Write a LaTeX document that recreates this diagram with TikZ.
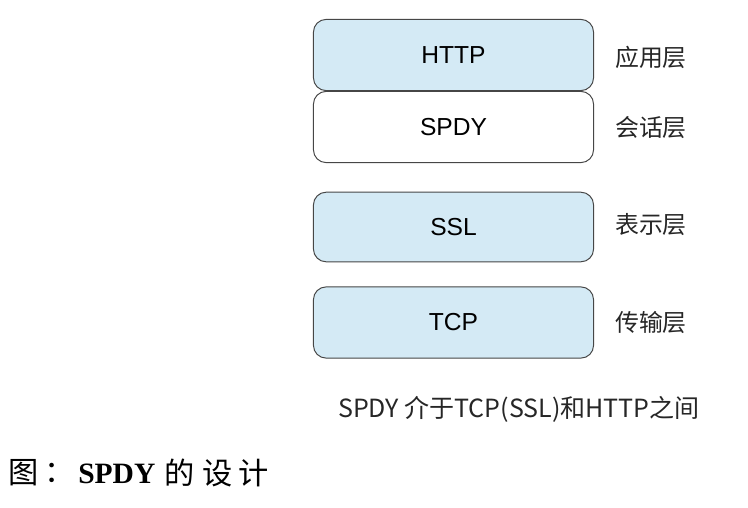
\documentclass[tikz,border=0pt]{standalone}
\usepackage{fontspec}
\setmainfont{Liberation Serif}
\setsansfont{Liberation Sans}
\newfontfamily\cjk{Noto Sans CJK SC}
\definecolor{layerblue}{RGB}{212,234,245}
\definecolor{layerline}{RGB}{70,70,70}
\tikzset{
  layer/.style={draw=layerline, line width=0.7pt, rounded corners=9pt,
    minimum width=7.0cm, minimum height=1.78cm, font=\sffamily\fontsize{17.5}{20}\selectfont},
  layerlabel/.style={font=\cjk\fontsize{17}{20}\selectfont, text=black!85},
  titlechar/.style={inner sep=0pt, font=\cjk\fontsize{21.5}{24}\selectfont},
}
\begin{document}
\begin{tikzpicture}[x=0.025cm, y=-0.025cm]
			\useasboundingbox (0,0) rectangle (748,507);
			\def\boxx{453.5}
			\def\labx{651}

			\node[layer, fill=white] (spdy) at (\boxx,127) {SPDY};
			\node[layer, fill=layerblue] (http) at (\boxx,55) {HTTP};
			\node[layer, fill=layerblue, minimum height=1.74cm] (ssl) at (\boxx,227) {SSL};
			\node[layer, fill=layerblue] (tcp) at (\boxx,322.5) {TCP};

			\node[layerlabel] (app) at (\labx,57) {应用层};
			\node[layerlabel] (sess) at (\labx,128) {会话层};
			\node[layerlabel] (pres) at (\labx,225) {表示层};
			\node[layerlabel] (trans) at (\labx,322) {传输层};

			\node[layerlabel, font=\cjk\fontsize{17.8}{20}\selectfont] (note) at (519,409) {SPDY 介于TCP(SSL)和HTTP之间};

			% caption line
			\node[titlechar] (tu) at (24,473) {图};
			\node[titlechar] (colon) at (60,473) {：};
			\node[anchor=west, inner sep=0pt, font=\bfseries\fontsize{21}{24}\selectfont] (spdyb) at (78,474) {SPDY};
			\node[titlechar] (de) at (180,473) {的};
			\node[titlechar] (she) at (218,473) {设};
			\node[titlechar] (ji) at (254,473) {计};

		\end{tikzpicture}
\end{document}
